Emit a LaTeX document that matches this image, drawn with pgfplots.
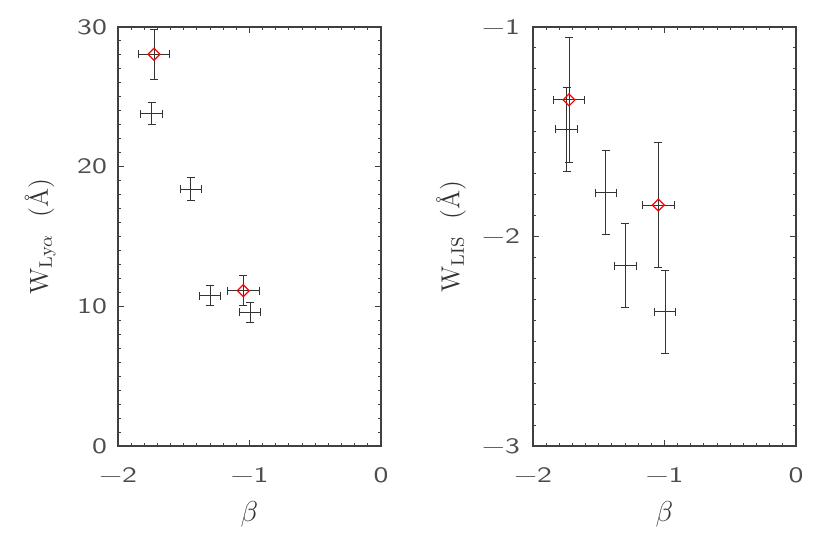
\documentclass[border=0pt]{standalone}
\usepackage{fontspec}
\usepackage{pgfplots}
\pgfplotsset{compat=1.18}
\newfontfamily\tickfont{lmsans10-regular.otf}[FakeStretch=1.35]
\pgfdeclareplotmark{empty}{}

% beta  W_Lya  err_beta  err_W
\pgfplotstableread{
x      y      ex     ey
-1.726 28.05  0.120  1.80
-1.744 23.80  0.082  0.78
-1.447 18.40  0.080  0.80
-1.300 10.76  0.083  0.70
-1.047 11.12  0.120  1.08
-0.996  9.57  0.080  0.70
}\lya
\pgfplotstableread{
x      y
-1.726 28.05
-1.047 11.12
}\lyared

% beta  W_LIS  err_beta  err_W
\pgfplotstableread{
x      y       ex     ey
-1.726 -1.348  0.120  0.30
-1.744 -1.488  0.082  0.20
-1.445 -1.791  0.080  0.20
-1.298 -2.139  0.082  0.20
-1.047 -1.850  0.120  0.30
-0.996 -2.360  0.080  0.20
}\lis
\pgfplotstableread{
x      y
-1.726 -1.348
-1.047 -1.850
}\lisred

\pgfplotsset{
  panel/.style={
    scale only axis,
    width=131.5pt, height=209.5pt,
    anchor=south west,
    xmin=-2, xmax=0,
    xtick={-2,-1,0},
    xticklabels={−2,−1,0},
    minor x tick num=9,
    minor y tick num=9,
    tick align=inside,
    major tick length=3pt,
    minor tick length=1.5pt,
    axis line style={black!75, line width=0.6pt},
    tick style={black!75, line width=0.5pt},
    ticklabel style={font=\tickfont\fontsize{11}{13}\selectfont, black!70},
    xticklabel style={yshift=-7.5pt},
    label style={font=\fontsize{13}{15}\selectfont, black!80},
    xlabel={\fontsize{15}{17}\selectfont$\beta$},
    xlabel style={at={(axis description cs:0.5,-0.162)}, anchor=center},
  },
  errs/.style={
    only marks, mark=empty,
    error bars/.cd,
      x dir=both, x explicit,
      y dir=both, y explicit,
      error bar style={black!80, line width=0.5pt},
      error mark options={rotate=90, mark size=2pt, black!80, line width=0.5pt},
  },
  reddiam/.style={
    only marks, mark=square, mark size=2.1pt,
    mark options={rotate=45, draw=red, line width=0.6pt, fill=none},
  },
}

\begin{document}
\begin{tikzpicture}[x=1pt,y=1pt]
\useasboundingbox (0,0) rectangle (415,277);

\begin{axis}[panel,
    at={(59pt,54pt)},
    ymin=0, ymax=30,
    ytick={0,10,20,30},
    yticklabels={0,10,20,30},
    yticklabel style={xshift=-2pt},
    ylabel={$\mathrm{W}_{\mathrm{Ly}\alpha}$\ \ (\AA)},
    ylabel style={at={(axis description cs:-0.296,0.5)}, anchor=center},
]
\addplot[errs] table[x=x, y=y, x error=ex, y error=ey] {\lya};
\addplot[reddiam] table[x=x, y=y] {\lyared};
\end{axis}

\begin{axis}[panel,
    at={(266.5pt,54pt)},
    ymin=-3, ymax=-1,
    ytick={-3,-2,-1},
    yticklabels={−3,−2,−1},
    yticklabel style={xshift=-3pt},
    ylabel={$\mathrm{W}_{\mathrm{LIS}}$\ \ (\AA)},
    ylabel style={at={(axis description cs:-0.312,0.5)}, anchor=center},
]
\addplot[errs] table[x=x, y=y, x error=ex, y error=ey] {\lis};
\addplot[reddiam] table[x=x, y=y] {\lisred};
\end{axis}
\end{tikzpicture}
\end{document}
